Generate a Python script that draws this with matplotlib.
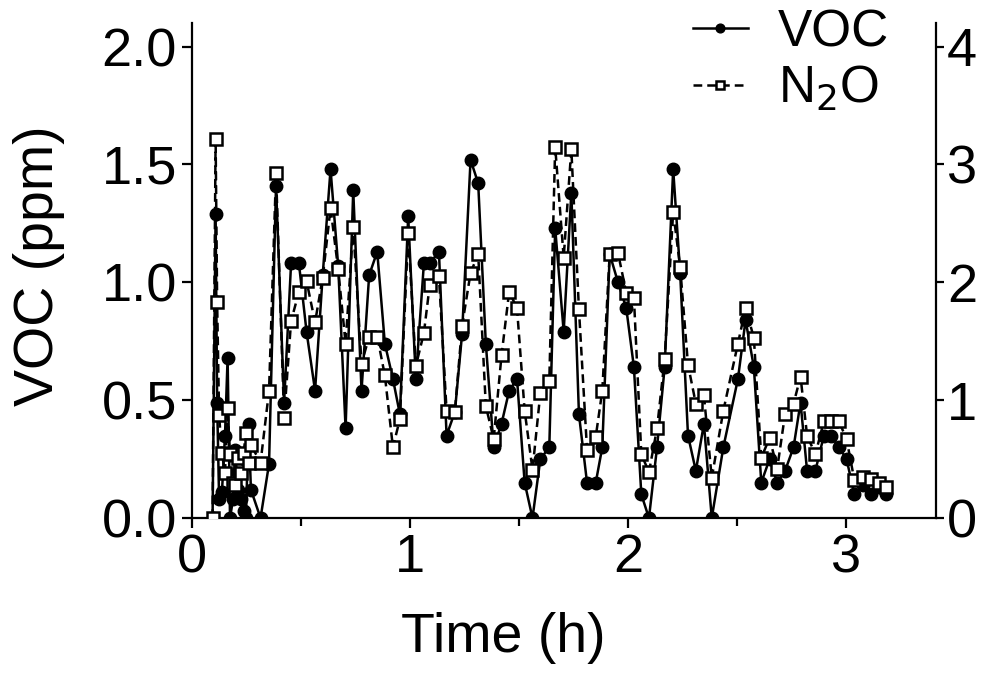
import matplotlib
matplotlib.use("Agg")
import matplotlib.pyplot as plt
from matplotlib.ticker import FormatStrFormatter

plt.rcParams['font.family'] = ['Liberation Sans', 'DejaVu Sans']

# sampling times (h)
time_h = [0.094, 0.108, 0.115, 0.124, 0.137, 0.151, 0.163, 0.174, 0.188, 0.197,
          0.211, 0.225, 0.236, 0.247, 0.259, 0.270, 0.314, 0.353, 0.385, 0.422,
          0.454, 0.490, 0.525, 0.564, 0.599, 0.635, 0.670, 0.704, 0.739, 0.777,
          0.812, 0.849, 0.884, 0.921, 0.953, 0.991, 1.026, 1.063, 1.090, 1.132,
          1.167, 1.205, 1.238, 1.277, 1.312, 1.347, 1.383, 1.419, 1.454, 1.490,
          1.525, 1.561, 1.597, 1.638, 1.665, 1.704, 1.739, 1.774, 1.811, 1.851,
          1.881, 1.915, 1.953, 1.991, 2.026, 2.060, 2.095, 2.132, 2.167, 2.206,
          2.238, 2.274, 2.310, 2.347, 2.383, 2.436, 2.503, 2.538, 2.576, 2.610,
          2.648, 2.683, 2.719, 2.758, 2.790, 2.820, 2.858, 2.897, 2.930, 2.966,
          3.001, 3.037, 3.075, 3.114, 3.152, 3.184]

# VOC (ppm), left axis
voc = [0.00, 1.29, 0.49, 0.08, 0.11, 0.35, 0.68, 0.00, 0.08, 0.29,
       0.12, 0.08, 0.03, 0.00, 0.40, 0.12, 0.00, 0.23, 1.41, 0.49,
       1.08, 1.08, 0.79, 0.54, 1.03, 1.48, 1.07, 0.38, 1.39, 0.54,
       1.03, 1.13, 0.74, 0.59, 0.44, 1.28, 0.59, 1.08, 1.08, 1.13,
       0.35, 0.45, 0.78, 1.52, 1.42, 0.74, 0.30, 0.40, 0.54, 0.59,
       0.15, 0.00, 0.25, 0.30, 1.23, 0.79, 1.38, 0.44, 0.15, 0.15,
       0.30, 1.12, 1.00, 0.89, 0.64, 0.10, 0.00, 0.30, 0.64, 1.48,
       1.04, 0.35, 0.20, 0.40, 0.00, 0.30, 0.59, 0.84, 0.64, 0.15,
       0.25, 0.15, 0.20, 0.30, 0.49, 0.20, 0.20, 0.35, 0.35, 0.30,
       0.25, 0.10, 0.14, 0.10, 0.13, 0.10]

# N2O, right axis
n2o = [0.00, 3.22, 1.83, 0.87, 0.55, 0.38, 0.93, 0.54, 0.30, 0.28,
       0.51, 0.38, 0.55, 0.72, 0.47, 0.62, 0.47, 1.08, 2.93, 0.85,
       1.67, 1.92, 2.01, 1.66, 2.04, 2.63, 2.11, 1.48, 2.47, 1.31,
       1.54, 1.54, 1.21, 0.60, 0.84, 2.42, 1.29, 1.57, 1.98, 2.05,
       0.91, 0.90, 1.63, 2.08, 2.24, 0.95, 0.67, 1.38, 1.92, 1.78,
       0.91, 0.41, 1.06, 1.16, 3.15, 2.21, 3.13, 1.77, 0.58, 0.69,
       1.08, 2.24, 2.25, 1.91, 1.87, 0.54, 0.39, 0.76, 1.35, 2.60,
       2.13, 1.30, 0.97, 1.04, 0.34, 0.91, 1.48, 1.78, 1.53, 0.51,
       0.68, 0.42, 0.88, 0.97, 1.20, 0.70, 0.54, 0.82, 0.82, 0.82,
       0.67, 0.32, 0.35, 0.33, 0.30, 0.26]

fig = plt.figure(figsize=(9.9, 6.73), dpi=100)
ax = fig.add_axes([0.194, 0.2303, 0.7512, 0.7355])
ax2 = ax.twinx()

l1, = ax.plot(time_h, voc, color='black', lw=1.8, marker='o', ms=9,
              mfc='black', mec='black', label='VOC')
l2, = ax2.plot(time_h, n2o, color='black', lw=1.8, ls=(0, (3.5, 2)),
               marker='s', ms=8, mfc='white', mec='black', mew=1.8,
               label='N$_2$O')

ax.set_xlim(0, 3.41)
ax.set_ylim(0, 2.1)
ax2.set_ylim(0, 4.2)

ax.set_xticks([0, 1, 2, 3])
ax.set_xticks([0.5, 1.5, 2.5], minor=True)
ax.set_yticks([0, 0.5, 1.0, 1.5, 2.0])
ax.yaxis.set_major_formatter(FormatStrFormatter('%.1f'))
ax2.set_yticks([0, 1, 2, 3, 4])

for a in (ax, ax2):
    a.spines['top'].set_visible(False)
    for s in a.spines.values():
        s.set_linewidth(1.6)
ax.spines['right'].set_visible(False)
ax2.spines['left'].set_visible(False)
ax2.spines['bottom'].set_visible(False)

ax.tick_params(axis='both', which='major', length=7, width=1.6,
               labelsize=39, pad=4)
ax.tick_params(axis='x', which='minor', length=6, width=1.6)
ax2.tick_params(axis='y', which='major', length=6, width=1.6,
                labelsize=39, pad=2)

ax.set_xlabel('Time (h)', fontsize=40)
ax.set_ylabel('VOC (ppm)', fontsize=40)
ax.xaxis.set_label_coords(0.418, -0.19)
ax.yaxis.set_label_coords(-0.171, 0.51)

fig.legend(handles=[l1, l2], loc='upper left', bbox_to_anchor=(0.700, 0.988),
           frameon=False, fontsize=37, markerscale=0.7, handlelength=1.07,
           handletextpad=0.58, labelspacing=0.14, borderpad=0,
           borderaxespad=0)

fig.savefig('out.png', dpi=100)
